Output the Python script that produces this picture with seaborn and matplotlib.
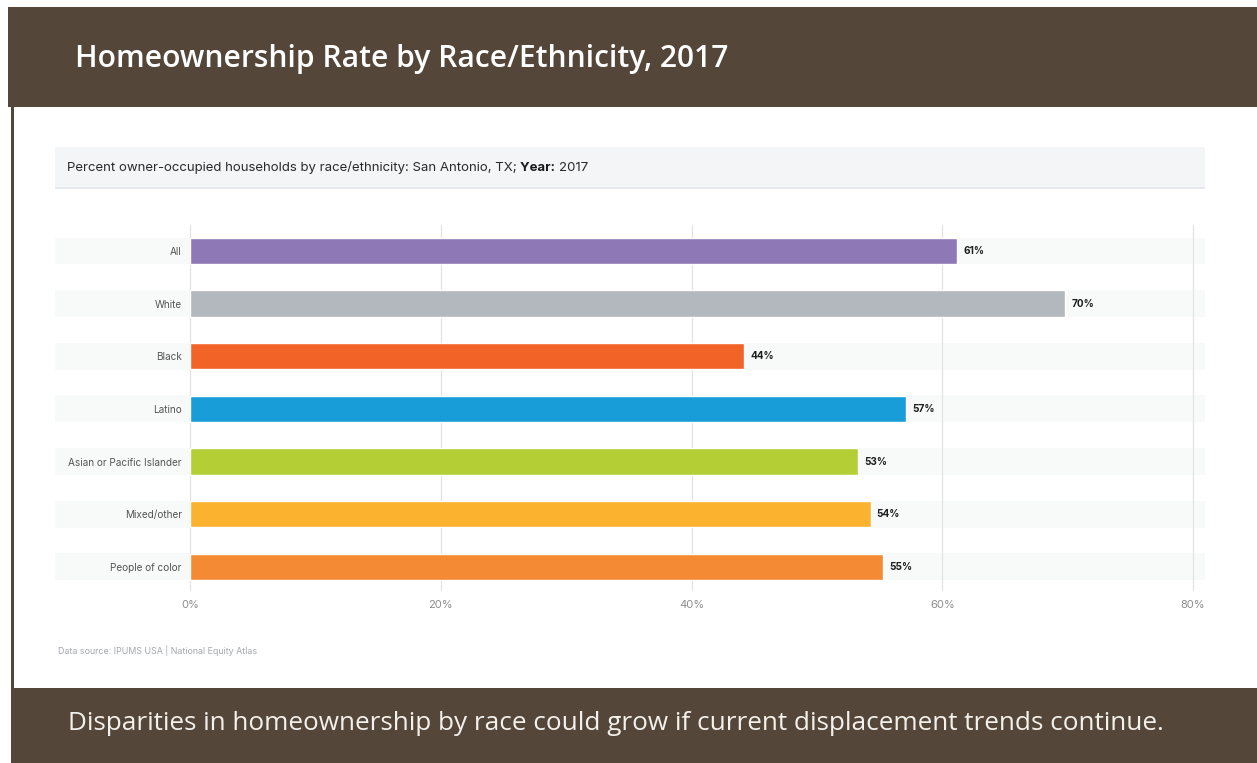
import matplotlib
matplotlib.use("Agg")
import matplotlib.pyplot as plt
import matplotlib.transforms as mtransforms
from matplotlib.patches import Rectangle
import pandas as pd
import seaborn as sns

# ---- data -------------------------------------------------------------
categories = ["All", "White", "Black", "Latino", "Asian or Pacific Islander",
              "Mixed/other", "People of color"]
rates = [61.2, 69.8, 44.2, 57.1, 53.3, 54.3, 55.3]
bar_colors = ["#8E78B6", "#B3B8BE", "#F26328", "#199DD8", "#B4CE36",
              "#FBB22F", "#F48B34"]
x_ticks = [0, 20, 40, 60, 80]

title = "Homeownership Rate by Race/Ethnicity, 2017"
subtitle = "Percent owner-occupied households by race/ethnicity: San Antonio, TX;"
subtitle_key = "Year:"
subtitle_val = "2017"
source = "Data source: IPUMS USA | National Equity Atlas"
footer = "Disparities in homeownership by race could grow if current displacement trends continue."

df = pd.DataFrame({"group": categories, "rate": rates})

# ---- figure -----------------------------------------------------------
W, H = 1257, 763
BROWN = "#54473A"

sns.set_theme(style="white")
plt.rcParams["font.family"] = ["Inter", "DejaVu Sans"]

fig = plt.figure(figsize=(W / 100, H / 100), dpi=100, facecolor="white")


def fx(px):
    return px / W


def fy(py):
    return 1 - py / H


def frect(x0, y0, x1, y1, color, z=0):
    fig.patches.append(Rectangle((fx(x0), fy(y1)), fx(x1 - x0), (y1 - y0) / H,
                                 transform=fig.transFigure, color=color,
                                 zorder=z, lw=0))


# header band, footer band and thin left frame
frect(8, 7, W, 107, BROWN)
frect(11, 688, W, H, BROWN)
frect(11, 107, 14, 688, BROWN)

# subtitle strip
frect(55, 147, 1205, 187, "#F3F5F7")
frect(55, 187, 1205, 189, "#E6EAEE")

fig.text(fx(75), fy(59), title, color="white", fontsize=21.6,
         fontweight="semibold", family=["Open Sans", "DejaVu Sans"],
         ha="left", va="center")
fig.text(fx(68), fy(724), footer, color="#F4F1EC", fontsize=18.85,
         family=["Open Sans", "DejaVu Sans"], ha="left", va="center")

t1 = fig.text(fx(67), fy(168), subtitle + " ", color="#2A2A2A", fontsize=9.5,
              ha="left", va="center")
t2 = fig.text(0, 0, subtitle_key + " ", color="#1A1A1A", fontsize=9.5,
              fontweight="bold", ha="left", va="center")
t3 = fig.text(0, 0, subtitle_val, color="#2A2A2A", fontsize=9.5,
              ha="left", va="center")
fig.canvas.draw()
r = fig.canvas.get_renderer()
bb1 = t1.get_window_extent(r)
t2.set_position((bb1.x1 / W, fy(168)))
bb2 = t2.get_window_extent(r)
t3.set_position((bb2.x1 / W, fy(168)))

fig.text(fx(58), fy(650), source, color="#A3A8AD", fontsize=6.4,
         ha="left", va="center")

# ---- bar chart --------------------------------------------------------
ax = fig.add_axes([fx(190), fy(590), fx(1193 - 190), (590 - 225) / H])
ax.set_facecolor("none")

sns.barplot(data=df, x="rate", y="group", hue="group",
            palette=dict(zip(categories, bar_colors)), orient="h",
            width=0.5, saturation=1, legend=False, ax=ax, zorder=3)

ax.set_xlim(0, 80)
ax.set_ylim(6.44, -0.494)

# light row stripes running under the labels and bars
blend = mtransforms.blended_transform_factory(fig.transFigure, ax.transData)
for i in range(len(categories)):
    ax.add_patch(Rectangle((fx(55), i - 0.255), fx(1205 - 55), 0.51,
                           transform=blend, color="#F8F9F9", lw=0,
                           zorder=0.2, clip_on=False))

for i, v in enumerate(rates):
    ax.text(v + 0.48, i, f"{v:.0f}%", va="center", ha="left",
            fontsize=7.2, fontweight="bold", color="#1E1E1E", zorder=4)

ax.set_xticks(x_ticks)
ax.set_xticklabels([f"{t}%" for t in x_ticks])
ax.grid(axis="x", color="#E2E2E2", lw=0.9, zorder=1)
ax.grid(axis="y", visible=False)
for gl in ax.xaxis.get_gridlines():
    gl.set_clip_on(False)
    gl.set_zorder(1)
for s in ax.spines.values():
    s.set_visible(False)
ax.tick_params(axis="x", length=0, pad=7, labelsize=8, labelcolor="#8C8C8C")
ax.tick_params(axis="y", length=0, pad=6, labelsize=7.2, labelcolor="#555555")
ax.set_xlabel("")
ax.set_ylabel("")

fig.savefig("out.png", dpi=100, facecolor="white")
